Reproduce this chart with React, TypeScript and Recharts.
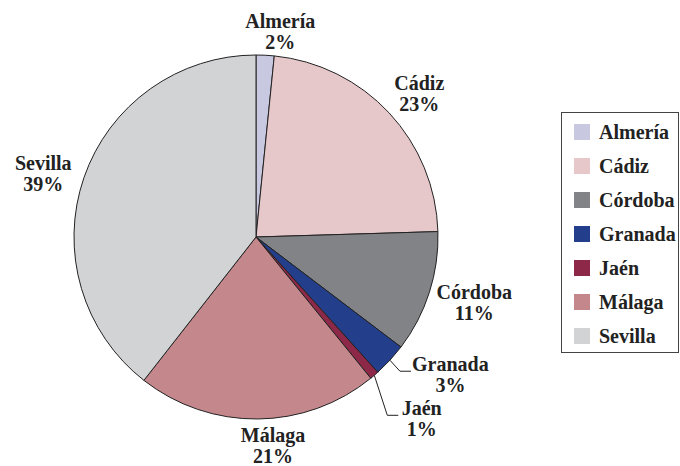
import React from 'react';
import { PieChart, Pie, Cell, Legend } from 'recharts';

const provinces = ['Almería', 'Cádiz', 'Córdoba', 'Granada', 'Jaén', 'Málaga', 'Sevilla'];
const shares = [1.6, 22.9, 10.8, 3.0, 0.8, 21.4, 39.4];
const colors = ['#c8c8e0', '#e6c8ca', '#828387', '#233f8c', '#8e2848', '#c4888c', '#d2d3d5'];

const data = provinces.map((name, i) => ({ name, value: shares[i] }));

const FONT = '"Liberation Serif", "Times New Roman", serif';
const TEXT = '#222';
const CX = 256;
const CY = 237;
const R = 182;

const labelLayout: Record<string, any> = {
  'Almería': { dx: 13, dy: 5 },
  'Cádiz': { dx: 6, dy: 0 },
  'Córdoba': { dx: 4, dy: 1 },
  'Málaga': { dx: 15, dy: -2 },
  'Sevilla': { dx: 0, dy: 5 },
  'Granada': { leader: true, ex: 10, ey: 11 },
  'Jaén': { leader: true, ex: 13, ey: 40 },
};

const txtProps = {
  fontFamily: FONT,
  fontSize: 20,
  fontWeight: 700,
  fill: TEXT,
  textAnchor: 'middle' as const,
  dominantBaseline: 'central' as const,
};

function renderLabel(props: any) {
  const { cx, cy, midAngle, outerRadius, name, percent } = props;
  const rad = Math.PI / 180;
  const s = Math.cos(midAngle * rad);
  const c = Math.sin(midAngle * rad);
  const pct = Math.round(percent * 100) + '%';
  const cfg = labelLayout[name] || {};
  if (cfg.leader) {
    const ex = cx + outerRadius * s;
    const ey = cy - outerRadius * c;
    const bx = ex + cfg.ex;
    const by = ey + cfg.ey;
    const tx = bx + 11;
    const w = name.length * 10.7;
    const mx = tx + 2 + w / 2;
    return (
      <g key={name}>
        <polyline points={`${ex},${ey} ${bx},${by} ${tx},${by}`} fill="none" stroke={TEXT} strokeWidth={1} />
        <text x={mx} y={by - 7} {...txtProps}>{name}</text>
        <text x={mx} y={by + 14} {...txtProps}>{pct}</text>
      </g>
    );
  }
  const w = name.length * 10;
  const h = 42;
  const d = outerRadius + 8;
  const x = cx + d * s + (s * w) / 2 + (cfg.dx || 0);
  const y = cy - d * c - (c * h) / 2 + (cfg.dy || 0);
  return (
    <g key={name}>
      <text x={x} y={y - 10.5} {...txtProps}>{name}</text>
      <text x={x} y={y + 10.5} {...txtProps}>{pct}</text>
    </g>
  );
}

function renderLegend() {
  return (
    <div
      style={{
        position: 'relative',
        boxSizing: 'border-box',
        width: 118,
        height: 241,
        border: '1px solid #444',
        background: '#fff',
        fontFamily: FONT,
        fontSize: 20,
        fontWeight: 700,
        color: TEXT,
      }}
    >
      {provinces.map((p, i) => (
        <div key={p} style={{ position: 'absolute', left: 12, top: 11 + i * 34, height: 16, display: 'flex', alignItems: 'center', whiteSpace: 'nowrap' }}>
          <span style={{ display: 'inline-block', width: 16, height: 16, background: colors[i] }} />
          <span style={{ marginLeft: 9, lineHeight: '16px' }}>{p}</span>
        </div>
      ))}
    </div>
  );
}

export default function App() {
  return (
    <div style={{ position: 'absolute', left: 0, top: 0, background: '#fff' }}>
      <PieChart width={680} height={466} margin={{ top: 0, right: 0, bottom: 0, left: 0 }}>
        <Pie
          data={data}
          dataKey="value"
          nameKey="name"
          cx={CX}
          cy={CY}
          outerRadius={R}
          startAngle={90}
          endAngle={-270}
          stroke={TEXT}
          strokeWidth={1}
          label={renderLabel}
          labelLine={false}
          isAnimationActive={false}
        >
          {data.map((d, i) => (
            <Cell key={d.name} fill={colors[i]} />
          ))}
        </Pie>
        <Legend
          layout="vertical"
          verticalAlign="top"
          align="right"
          content={renderLegend}
          wrapperStyle={{ position: 'absolute', left: 561, top: 112, width: 118, height: 241 }}
        />
      </PieChart>
    </div>
  );
}
